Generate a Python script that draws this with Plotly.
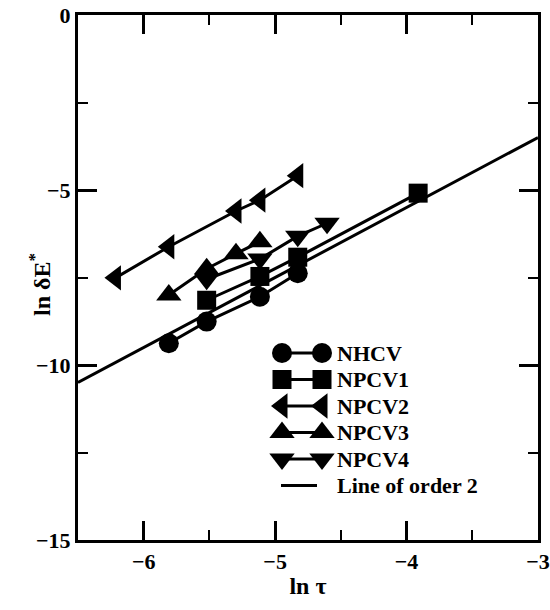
import plotly.graph_objects as go

# ln(tau) values and ln(deltaE*) values
nhcv_x = [-5.809, -5.521, -5.116, -4.828]
nhcv_y = [-9.38, -8.76, -8.05, -7.38]

npcv1_x = [-5.521, -5.116, -4.828, -3.912]
npcv1_y = [-8.15, -7.47, -6.92, -5.09]

npcv2_x = [-6.215, -5.809, -5.298, -5.116, -4.828]
npcv2_y = [-7.51, -6.62, -5.60, -5.29, -4.59]

npcv3_x = [-5.809, -5.521, -5.298, -5.116]
npcv3_y = [-8.00, -7.25, -6.82, -6.48]

npcv4_x = [-5.521, -5.116, -4.828, -4.605]
npcv4_y = [-7.55, -6.97, -6.32, -5.95]

order2_x = [-6.5, -3.0]
order2_y = [-10.5, -3.5]

x_ticks = [-6, -5, -4, -3]
x_tick_labels = ["−6", "−5", "−4", "−3"]
y_ticks = [0, -5, -10, -15]
y_tick_labels = ["0", "−5", "−10", "−15"]

legend_names = ["NHCV", "NPCV1", "NPCV2", "NPCV3", "NPCV4", "Line of order 2"]

FONT = "Liberation Serif"
W, H = 550, 610
ML, MR, MT, MB = 78, 12, 15, 70
PW, PH = W - ML - MR, H - MT - MB

fig = go.Figure()

series = [
    (nhcv_x, nhcv_y, "circle", 20),
    (npcv1_x, npcv1_y, "square", 19),
    (npcv2_x, npcv2_y, "triangle-left", 22),
    (npcv3_x, npcv3_y, "triangle-up", 22),
    (npcv4_x, npcv4_y, "triangle-down", 22),
]
for (xs, ys, sym, sz), name in zip(series, legend_names):
    fig.add_trace(go.Scatter(
        x=xs, y=ys, name=name, mode="lines+markers", showlegend=False,
        line=dict(color="black", width=3),
        marker=dict(symbol=sym, size=sz, color="black"),
    ))

fig.add_trace(go.Scatter(
    x=order2_x, y=order2_y, name=legend_names[5], mode="lines", showlegend=False,
    line=dict(color="black", width=3),
))

# ---- custom legend (glyphs drawn on a hidden overlay axis in paper units)
def px_to_paper_x(px):
    return (px - ML) / PW

def px_to_paper_y(py):
    return 1 - (py - MT) / PH

row0, step = 353, 26.5
gl_left, gl_right, txt_left = 282, 322, 335
for i, name in enumerate(legend_names):
    yy = px_to_paper_y(row0 + i * step)
    if i < 5:
        sym, sz = series[i][2], series[i][3]
        fig.add_trace(go.Scatter(
            x=[px_to_paper_x(gl_left), px_to_paper_x(gl_right)], y=[yy, yy],
            xaxis="x2", yaxis="y2", mode="lines+markers", showlegend=False,
            hoverinfo="skip",
            line=dict(color="black", width=3),
            marker=dict(symbol=sym, size=sz, color="black"),
        ))
    else:
        fig.add_trace(go.Scatter(
            x=[px_to_paper_x(gl_left - 1), px_to_paper_x(gl_right - 5)], y=[yy, yy],
            xaxis="x2", yaxis="y2", mode="lines", showlegend=False,
            hoverinfo="skip",
            line=dict(color="black", width=3),
        ))
    fig.add_annotation(
        x=px_to_paper_x(txt_left), y=yy, xref="paper", yref="paper",
        text="<b>" + name + "</b>", showarrow=False, xanchor="left", yanchor="middle",
        font=dict(family=FONT, size=22, color="black"),
    )

# y-axis title placed as a rotated annotation
fig.add_annotation(
    x=px_to_paper_x(40), y=px_to_paper_y(285), xref="paper", yref="paper",
    text="<b>ln δE<sup>*</sup></b>", textangle=-90, showarrow=False,
    xanchor="center", yanchor="middle",
    font=dict(family=FONT, size=24, color="black"),
)

axis_common = dict(
    showline=True, linecolor="black", linewidth=3, mirror="allticks",
    ticks="inside", ticklen=19, tickwidth=3, tickcolor="black",
    showgrid=False, zeroline=False, automargin=False,
    tickfont=dict(family=FONT, size=22, color="black"),
)

fig.update_layout(
    xaxis=dict(
        range=[-6.5, -3], tickvals=x_ticks,
        ticktext=["<b>" + t + "</b>" for t in x_tick_labels],
        minor=dict(ticks="inside", ticklen=10, tickwidth=2, dtick=0.5, tickcolor="black", showgrid=False),
        title=dict(text="<b>ln τ</b>", font=dict(family=FONT, size=24, color="black"), standoff=4),
        **axis_common,
    ),
    yaxis=dict(
        range=[-15, 0], tickvals=y_ticks,
        ticktext=["<b>" + t + "</b>" for t in y_tick_labels],
        minor=dict(ticks="inside", ticklen=10, tickwidth=2, dtick=2.5, tickcolor="black", showgrid=False),
        **axis_common,
    ),
    xaxis2=dict(overlaying="x", range=[0, 1], visible=False, fixedrange=True),
    yaxis2=dict(overlaying="y", range=[0, 1], visible=False, fixedrange=True),
    width=W, height=H,
    margin=dict(l=ML, r=MR, t=MT, b=MB),
    plot_bgcolor="white", paper_bgcolor="white",
    font=dict(family=FONT, color="black"),
    showlegend=False,
)

fig.write_html(
    "out.html",
    config={"displayModeBar": False},
    post_script="document.body.style.margin='0';document.body.style.overflow='hidden';",
)
